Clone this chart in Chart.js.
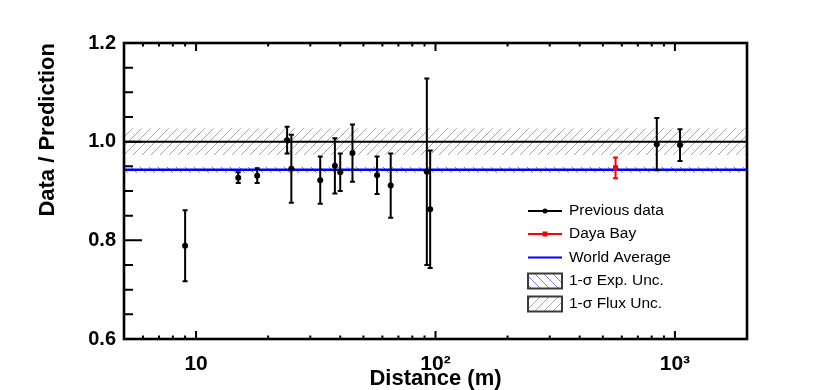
<!DOCTYPE html>
<html><head><meta charset="utf-8">
<script src="https://cdn.jsdelivr.net/npm/chart.js@4.4.0/dist/chart.umd.min.js"></script>
<style>html,body{margin:0;padding:0;background:#fff;} canvas{display:block;}</style>
</head><body>
<canvas id="c" width="830" height="390"></canvas>
<script>
// ---- data ----
const prevDistance = [9.0, 15, 18, 24, 25, 33, 38, 40, 45, 57, 65, 92, 95, 840, 1050];
const prevRatio    = [0.789, 0.927, 0.931, 1.003, 0.945, 0.922, 0.951, 0.938, 0.977, 0.932, 0.911, 0.939, 0.863, 0.995, 0.993];
const prevError    = [0.072, 0.011, 0.015, 0.027, 0.069, 0.048, 0.056, 0.038, 0.058, 0.038, 0.065, 0.189, 0.119, 0.053, 0.032];
const dybDistance = [565];
const dybRatio    = [0.947];
const dybError    = [0.021];
const lineEnds     = [5, 2000];
const unityLine    = [1.0, 1.0];
const worldAverage = [0.943, 0.943];
const expBandLow   = [0.937, 0.937];
const expBandHigh  = [0.949, 0.949];
const fluxBandLow  = [0.973, 0.973];
const fluxBandHigh = [1.027, 1.027];
const xTickValues = [10, 100, 1000];
const xTickLabels = ['10', '10²', '10³'];
const yTickValues = [0.6, 0.8, 1.0, 1.2];
const yTickLabels = ['0.6', '0.8', '1.0', '1.2'];
const seriesLabels = ['Previous data', 'Daya Bay', 'World Average', '1-σ Exp. Unc.', '1-σ Flux Unc.'];

const FONT = '"Liberation Sans", Arial, Helvetica, sans-serif';

function hatch(color, dir) {
  const s = 9, c = document.createElement('canvas');
  c.width = s; c.height = s;
  const g = c.getContext('2d');
  g.strokeStyle = color; g.lineWidth = 1;
  g.beginPath();
  for (const k of [-s, 0, s]) {
    if (dir === '/') { g.moveTo(k, s); g.lineTo(k + s, 0); }
    else { g.moveTo(k, 0); g.lineTo(k + s, s); }
  }
  g.stroke();
  return document.getElementById('c').getContext('2d').createPattern(c, 'repeat');
}
const fluxPattern = hatch('#a8a8a8', '/');
const expPattern = hatch('#7d7dff', '\\');

const pts = (xs, ys) => xs.map((v, i) => ({x: v, y: ys[i]}));

const errorBarPlugin = {
  id: 'errorBars',
  beforeDatasetDraw(chart, args) {
    const ds = chart.data.datasets[args.index];
    if (!ds.errors) return;
    const {ctx, scales: {x, y}} = chart;
    ctx.save();
    ctx.strokeStyle = ds.borderColor; ctx.lineWidth = 2;
    ds.data.forEach((p, i) => {
      const px = x.getPixelForValue(p.x);
      const y1 = y.getPixelForValue(p.y + ds.errors[i]);
      const y2 = y.getPixelForValue(p.y - ds.errors[i]);
      ctx.beginPath();
      ctx.moveTo(px, y1); ctx.lineTo(px, y2);
      ctx.moveTo(px - 2.5, y1); ctx.lineTo(px + 2.5, y1);
      ctx.moveTo(px - 2.5, y2); ctx.lineTo(px + 2.5, y2);
      ctx.stroke();
    });
    ctx.restore();
  }
};

const frameTicksPlugin = {
  id: 'frameTicks',
  afterDatasetsDraw(chart) {
    const {ctx, chartArea: a, scales: {x, y}} = chart;
    ctx.save();
    ctx.strokeStyle = '#000'; ctx.lineWidth = 2;
    ctx.beginPath();
    for (let k = 0; k <= 12; k++) {
      const v = y.min + k * 0.05;
      const py = y.getPixelForValue(v);
      const len = (k % 4 === 0) ? 18 : 9;
      ctx.moveTo(a.left, py); ctx.lineTo(a.left + len, py);
    }
    for (let e = 0; e <= 3; e++) for (let m = 1; m <= 9; m++) {
      const v = m * Math.pow(10, e);
      if (v < x.min || v > x.max) continue;
      const px = x.getPixelForValue(v);
      const len = m === 1 ? 8 : 3.5;
      ctx.moveTo(px, a.bottom); ctx.lineTo(px, a.bottom - len);
      ctx.moveTo(px, a.top); ctx.lineTo(px, a.top + len);
    }
    ctx.stroke();
    ctx.lineWidth = 2.6;
    ctx.strokeRect(a.left, a.top, a.right - a.left, a.bottom - a.top);
    ctx.restore();
  }
};

const legendPlugin = {
  id: 'customLegend',
  afterDraw(chart) {
    const {ctx, chartArea: a} = chart;
    const x0 = a.left + 404, x1 = x0 + 34, tx = x0 + 41;
    const rows = [a.top + 168, a.top + 191, a.top + 214.5, a.top + 238, a.top + 261];
    ctx.save();
    ctx.font = '15.5px ' + FONT;
    ctx.textBaseline = 'middle'; ctx.textAlign = 'left';
    const lines = [['#000', 'dot'], ['#ff0000', 'sq'], ['#0000ff', null]];
    lines.forEach(([col, mk], i) => {
      const yy = rows[i];
      ctx.strokeStyle = col; ctx.lineWidth = 2;
      ctx.beginPath(); ctx.moveTo(x0, yy); ctx.lineTo(x1, yy); ctx.stroke();
      ctx.fillStyle = col;
      if (mk === 'dot') { ctx.beginPath(); ctx.arc((x0 + x1) / 2, yy, 2.5, 0, Math.PI * 2); ctx.fill(); }
      if (mk === 'sq') ctx.fillRect((x0 + x1) / 2 - 2.5, yy - 2.5, 5, 5);
    });
    [[expPattern, 3], [fluxPattern, 4]].forEach(([pat, i]) => {
      const yy = rows[i];
      ctx.fillStyle = pat;
      ctx.fillRect(x0, yy - 7.5, 34, 15);
      ctx.strokeStyle = '#3a3a3a'; ctx.lineWidth = 2;
      ctx.strokeRect(x0, yy - 7.5, 34, 15);
    });
    ctx.fillStyle = '#000';
    seriesLabels.forEach((t, i) => ctx.fillText(t, tx, rows[i]));
    ctx.restore();
  }
};

new Chart(document.getElementById('c'), {
  type: 'scatter',
  data: {
    datasets: [
      {label: seriesLabels[0], data: pts(prevDistance, prevRatio), errors: prevError,
       borderColor: '#000', backgroundColor: '#000', pointRadius: 3, pointBorderWidth: 0, showLine: false, order: 0},
      {label: seriesLabels[1], data: pts(dybDistance, dybRatio), errors: dybError,
       borderColor: '#ff0000', backgroundColor: '#ff0000', pointStyle: 'rect', pointRadius: 3.6, pointBorderWidth: 0, showLine: false, order: 0},
      {label: 'Prediction', data: pts(lineEnds, unityLine), showLine: true, borderColor: '#000', borderWidth: 2,
       pointRadius: 0, fill: false, order: 1},
      {label: seriesLabels[2], data: pts(lineEnds, worldAverage), showLine: true, borderColor: '#0000ff', borderWidth: 2.5,
       pointRadius: 0, fill: false, order: 1},
      {label: 'exp low', data: pts(lineEnds, expBandLow), showLine: true, borderWidth: 0, borderColor: 'rgba(0,0,0,0)',
       pointRadius: 0, fill: false, order: 2},
      {label: seriesLabels[3], data: pts(lineEnds, expBandHigh), showLine: true, borderWidth: 0, borderColor: 'rgba(0,0,0,0)',
       backgroundColor: expPattern, pointRadius: 0, fill: '-1', order: 2},
      {label: 'flux low', data: pts(lineEnds, fluxBandLow), showLine: true, borderWidth: 0, borderColor: 'rgba(0,0,0,0)',
       pointRadius: 0, fill: false, order: 3},
      {label: seriesLabels[4], data: pts(lineEnds, fluxBandHigh), showLine: true, borderWidth: 0, borderColor: 'rgba(0,0,0,0)',
       backgroundColor: fluxPattern, pointRadius: 0, fill: '-1', order: 3}
    ]
  },
  options: {
    responsive: false, animation: false, devicePixelRatio: 1,
    layout: {padding: {top: 43, right: 83, bottom: 0, left: 0}},
    plugins: {legend: {display: false}, tooltip: {enabled: false}},
    scales: {
      x: {
        type: 'logarithmic', min: 5, max: 2000,
        grid: {display: false}, border: {display: false},
        afterBuildTicks: s => { s.ticks = xTickValues.map(v => ({value: v})); },
        afterFit: s => { s.height = 51; },
        ticks: {color: '#000', padding: 5, maxRotation: 0, autoSkip: false,
                font: {family: FONT, size: 21, weight: 'bold'},
                callback: v => xTickLabels[xTickValues.indexOf(v)]},
        title: {display: true, text: 'Distance (m)', color: '#000',
                font: {family: FONT, size: 22, weight: 'bold', lineHeight: 1}, padding: {top: 0, bottom: 0}}
      },
      y: {
        type: 'linear', min: 0.6, max: 1.2,
        grid: {display: false}, border: {display: false},
        afterBuildTicks: s => { s.ticks = yTickValues.map(v => ({value: v})); },
        afterFit: s => { s.width = 124; },
        ticks: {color: '#000', padding: 0, font: {family: FONT, size: 20, weight: 'bold'},
                callback: v => yTickLabels[yTickValues.indexOf(v)]},
        title: {display: true, text: 'Data / Prediction', align: 'end', color: '#000',
                font: {family: FONT, size: 22, weight: 'bold', lineHeight: 1.2}, padding: {top: 35, bottom: 0}}
      }
    }
  },
  plugins: [errorBarPlugin, frameTicksPlugin, legendPlugin]
});
</script>
</body></html>
